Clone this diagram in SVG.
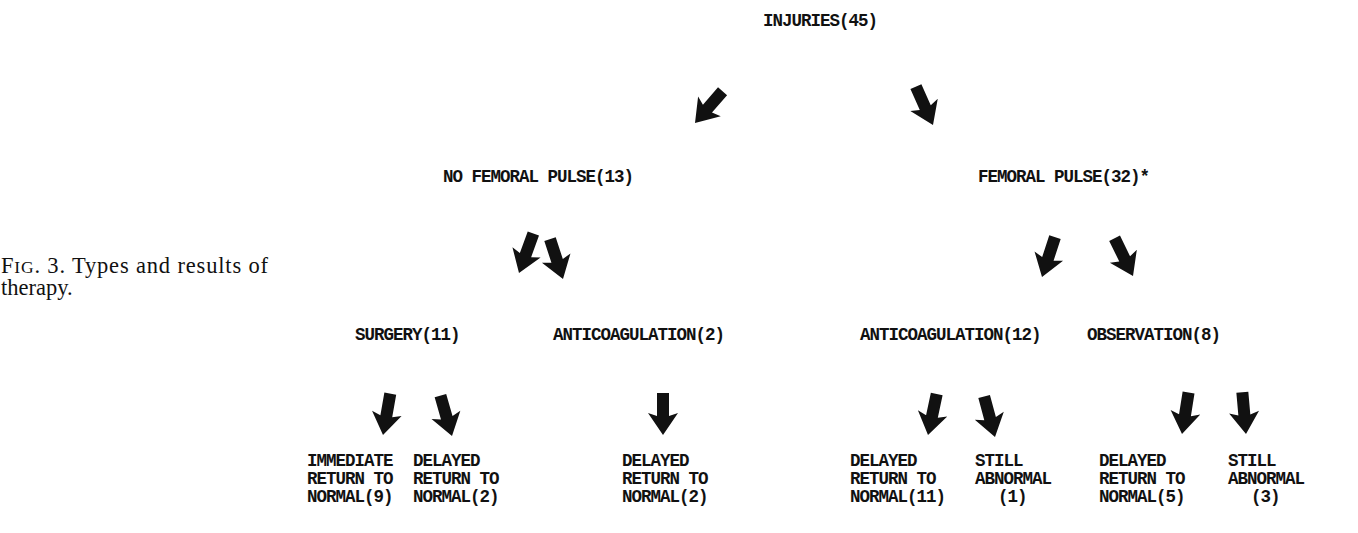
<svg xmlns="http://www.w3.org/2000/svg" width="1358" height="533" viewBox="0 0 1358 533">
<style>
.t{font-family:"Liberation Mono","DejaVu Sans Mono",monospace;font-size:17.5px;letter-spacing:-1px;font-weight:bold;fill:#111;}
.cap{font-family:"Liberation Serif","DejaVu Serif",serif;font-size:22.5px;fill:#111;}
.a{fill:#111;}
</style>
<defs>
<path id="arr" d="M -6,-42 L 6,-42 L 6,-19 L 15,-22 L 0,0 L -15,-22 L -6,-19 Z"/>
</defs>
<rect width="1358" height="533" fill="#fff"/>
<g id="caption">
<text class="cap" x="1" y="273" textLength="267" lengthAdjust="spacing">F<tspan font-size="17.5">IG</tspan>. 3. Types and results of</text>
<text class="cap" x="1" y="295">therapy.</text>
</g>
<g id="n-injuries"><text class="t" x="763" y="26">INJURIES(45)</text></g>
<g id="n-nofem"><text class="t" x="443" y="182">NO FEMORAL PULSE(13)</text></g>
<g id="n-fem"><text class="t" x="978" y="182">FEMORAL PULSE(32)*</text></g>
<g id="n-surgery"><text class="t" x="355" y="340">SURGERY(11)</text></g>
<g id="n-anti2"><text class="t" x="553" y="340">ANTICOAGULATION(2)</text></g>
<g id="n-anti12"><text class="t" x="860" y="340">ANTICOAGULATION(12)</text></g>
<g id="n-obs"><text class="t" x="1087" y="340">OBSERVATION(8)</text></g>
<g id="n-l1"><text class="t" x="307" y="466">IMMEDIATE</text><text class="t" x="307" y="484">RETURN TO</text><text class="t" x="307" y="502">NORMAL(9)</text></g>
<g id="n-l2"><text class="t" x="413" y="466">DELAYED</text><text class="t" x="413" y="484">RETURN TO</text><text class="t" x="413" y="502">NORMAL(2)</text></g>
<g id="n-l3"><text class="t" x="622" y="466">DELAYED</text><text class="t" x="622" y="484">RETURN TO</text><text class="t" x="622" y="502">NORMAL(2)</text></g>
<g id="n-l4"><text class="t" x="850" y="466">DELAYED</text><text class="t" x="850" y="484">RETURN TO</text><text class="t" x="850" y="502">NORMAL(11)</text></g>
<g id="n-l5"><text class="t" x="975" y="466">STILL</text><text class="t" x="975" y="484">ABNORMAL</text><text class="t" x="998" y="502">(1)</text></g>
<g id="n-l6"><text class="t" x="1099" y="466">DELAYED</text><text class="t" x="1099" y="484">RETURN TO</text><text class="t" x="1099" y="502">NORMAL(5)</text></g>
<g id="n-l7"><text class="t" x="1228" y="466">STILL</text><text class="t" x="1228" y="484">ABNORMAL</text><text class="t" x="1251" y="502">(3)</text></g>
<g id="connectors" class="a">
<use href="#arr" transform="translate(695,123) rotate(41)"/>
<use href="#arr" transform="translate(933,125) rotate(-24)"/>
<use href="#arr" transform="translate(519,273) rotate(20)"/>
<use href="#arr" transform="translate(563,279) rotate(-18)"/>
<use href="#arr" transform="translate(1042,277) rotate(18)"/>
<use href="#arr" transform="translate(1133,276) rotate(-26)"/>
<use href="#arr" transform="translate(383,435) rotate(10)"/>
<use href="#arr" transform="translate(452,436) rotate(-16)"/>
<use href="#arr" transform="translate(663,435)"/>
<use href="#arr" transform="translate(928,435) rotate(12)"/>
<use href="#arr" transform="translate(995,437) rotate(-15)"/>
<use href="#arr" transform="translate(1182,434) rotate(9)"/>
<use href="#arr" transform="translate(1246,434) rotate(-5)"/>
</g>
</svg>
